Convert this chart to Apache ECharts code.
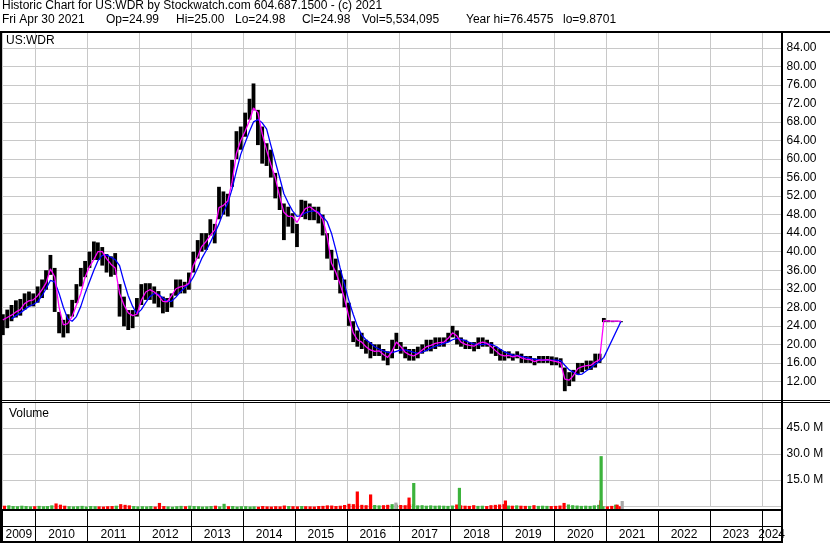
<!DOCTYPE html>
<html><head><meta charset="utf-8">
<script src="https://cdn.jsdelivr.net/npm/echarts@6/dist/echarts.min.js"></script>
<style>html,body{margin:0;padding:0;background:#fff}#c{width:830px;height:543px}</style>
</head><body><div id="c"></div><script>
// ---------- DATA ----------
const firstMonth = [2009, 5];           // May 2009 ... Apr 2021 (monthly)
const highs = [
  26.5,27.5,28.5,29.5,29.8,31,31.4,31,
  32.5,34,36,39.3,36.5,27,25.3,26.5,29.6,33,36.5,38,
  40,42.2,42,41,39.5,39,39.7,33,30.3,27.4,27.4,30,
  33,33.2,33.2,32.5,31.5,30.3,30,31,34,34,33.5,35.5,
  40,42.5,44,44,47,46,54,53,52.5,59.8,66,67,
  70,73,76.3,70.6,67,63.4,62,57,54,50.4,49.7,48.3,
  46,51.2,51,50.4,49.7,49.7,48,44,40.4,38.5,36,34,
  29,25,23,22.5,21,20.5,20,20,19,18.5,21,22.5,
  20.5,19.5,19,19,19.5,20,21,21,21.5,21.5,21.5,22.5,
  24,23,21.5,21,20.5,20.5,21.5,21.5,21,20.5,19.5,19,
  18.5,18.5,18,18.5,18,17.5,17.5,17,17.5,17.5,17.5,17.4,
  17.2,17,15,14,14.5,16,16,16.5,16.5,18,18,25.7,
  25.2,25.1,25.1,25
];
const lows = [
  22,23.5,25,25.8,26.2,27.5,28.2,28.2,
  29,30,31.8,35,27,22.4,21.5,22.4,26,28.9,32.5,34.5,
  36.5,38.2,38.2,37,35.5,34.6,35,26,23.9,23.1,23.5,26,
  28.5,29.6,29.6,28.8,28,26.7,27,28,30.5,31,31,31.8,
  35.5,38.5,40,40.4,43.5,41.8,47,48,47.6,54,60,62,
  64.8,68.5,70.5,63,59,58.5,56,51.5,49,42.5,45.4,44,
  41,47.5,47,46.8,46.8,46.1,43.5,38.5,36,33.9,31,28,
  24,20.5,19.5,19,18,17,17.5,17.5,16.5,15.5,17,19,
  18,17,16.5,16.5,17,18,18.5,18.5,19,19.5,19.5,20.5,
  21.5,20,19.5,19,19,18.5,19,19.5,19.5,18,17.5,16.5,
  16.5,17,16.5,17,16,16,16,15.5,16,16,16,15.5,
  15.5,15,9.9,11,12,13.5,14,14.5,14.5,15,16,24.8,
  24.8,24.8,24.9,24.9
];
const maFast = [
  25.3,25.8,26.3,27,27.5,28.8,29.4,29.6,
  30.5,31.8,33.2,36.3,34.6,28,24.2,24.5,26,28.5,31,34.5,
  36.8,38.3,40,40,38.5,37.3,36.5,31,28.5,26.8,26.2,26.5,
  29.5,31.3,31.8,31.3,30.5,29.3,29.2,30.5,32,32.4,32.6,33.2,
  37,38.9,41.1,42.2,43.5,44.7,49.5,50,51,55,61.2,64,
  66,68.3,71,70,65.5,61.9,58.8,56,52,48.5,47.6,47.6,
  46.3,48,49.3,49.7,49,48.3,47,43.5,37.5,35.6,33,30,
  26,22.5,21,20.5,19.5,18.8,18.5,18.6,17.8,17.2,18.5,20.5,
  19.5,18.3,17.8,17.5,18,18.8,19.5,19.8,20.2,20.4,20.5,21.3,
  22.5,21.8,20.5,20,19.8,19.6,20.2,20.5,20.2,19.5,18.6,17.8,
  17.5,17.6,17.3,17.6,17.1,16.8,16.7,16.3,16.6,16.6,16.7,16.5,
  16.3,16,12.5,12.3,13.3,14.8,15.2,15.4,15.5,16.2,16.7,25.2,
  25,25,25,25
];
const maSlow = [
  null,null,25.5,26.2,26.8,27.5,28.2,28.6,
  29.2,30.5,32,33.8,33.5,31,28,25.5,25,26,28.2,31,
  33.5,36,38,39.2,39.3,38.8,38.3,37,33.5,30.5,28.2,26.6,
  27.5,29,30.3,31,30.8,30,29.3,29.3,30.2,31.3,32.2,33,
  34.5,36.5,38.5,40.2,42,44,46,48.5,50.5,53.5,57.5,61,
  63.5,66,68,68.5,67.8,66.5,63,59.5,56,52.5,50.5,48.8,
  47.6,47.8,48.4,48.7,48.8,48.6,47.6,46.5,44,40.5,36.5,33,
  29.5,26.5,24,22,21,20.3,19.5,19,18.6,18.3,18.2,18.5,
  18.8,18.8,18.6,18.3,18.1,18.3,18.7,19.2,19.6,19.9,20.2,20.5,
  21,21.3,21.1,20.8,20.4,20.1,19.9,20,20.1,20,19.6,19,
  18.4,18,17.7,17.6,17.4,17.2,17,16.8,16.7,16.6,16.6,16.6,
  16.6,16.5,15.5,14.5,14,13.5,13.6,14.3,14.9,15.7,16.3,17.2,
  null,null,null,25
];
// typical daily volume per month, millions
const volume = [
  1.9,2.1,1.7,1.6,1.9,1.7,1.5,1.6,
  1.8,1.6,1.7,2.1,3.2,2.5,1.9,1.6,1.5,1.6,1.8,1.4,
  1.7,1.6,1.5,1.4,1.6,1.7,1.9,2.8,2.4,2.1,1.7,1.5,
  1.6,1.5,1.7,1.4,3.5,1.7,1.5,1.3,1.6,1.8,1.6,1.9,
  1.7,1.6,1.4,1.5,1.7,1.9,1.5,3.0,1.6,1.7,1.4,1.6,
  1.6,1.4,1.5,1.3,1.7,1.5,1.4,1.6,1.5,2.0,1.7,1.6,
  1.5,1.7,1.6,1.5,1.4,1.7,1.8,2.1,2.0,1.7,1.9,2.3,
  3.0,2.8,2.6,2.4,2.2,2.6,2.3,2.1,2.2,2.4,2.8,2.5,
  2.3,2.2,2.6,2.8,2.1,2.2,1.9,2.1,1.9,2.0,1.9,1.8,
  2.0,2.6,2.1,1.9,1.8,2.2,1.8,1.9,1.7,2.2,2.4,2.6,
  2.8,2.0,1.9,2.1,1.9,1.8,1.8,2.2,1.8,1.9,1.8,1.7,
  1.8,2.0,3.5,2.6,2.2,2.0,1.8,1.9,1.8,2.1,2.4,1.6,
  1.5,1.8,2.5,1.6
];
const spikeDates  = ['2016-03-14','2016-06-16','2016-12-12','2017-03-15','2017-04-17','2018-03-06','2019-01-25','2020-11-30','2020-12-02','2021-03-25','2021-04-30'];
const spikeValues = [10.1, 8.4, 3.7, 6.6, 15.0, 12.2, 4.9, 5.0, 30.5, 2.5, 4.6];
const spikeDir    = ['down','down','flat','down','up','up','down','down','up','down','flat'];
const yearLabels = ['2009','2010','2011','2012','2013','2014','2015','2016','2017','2018','2019','2020','2021','2022','2023','2024'];
const priceTicks = [12,16,20,24,28,32,36,40,44,48,52,56,60,64,68,72,76,80,84];
const volTicks = [15,30,45];
const axisStart = '2009-05-09', axisEnd = '2024-05-19';
const header1 = 'Historic Chart for US:WDR by Stockwatch.com 604.687.1500 - (c) 2021';
const header2 = ['Fri Apr 30 2021','Op=24.99','Hi=25.00','Lo=24.98','Cl=24.98','Vol=5,534,095','Year hi=76.4575','lo=9.8701'];
const header2X = [2,106,176,235,302,362,466,563];

// ---------- BUILD ----------
const FONT = '"Liberation Sans", Arial, sans-serif';
const tMin = Date.parse(axisStart + 'T00:00:00Z'), tMax = Date.parse(axisEnd + 'T00:00:00Z');
const months = highs.map((_, i) => Date.UTC(firstMonth[0], firstMonth[1] - 1 + i, 15));
const mids = highs.map((h, i) => (h + lows[i]) / 2);
const UP = '#3cb33c', DOWN = '#ff0000', FLAT = '#a8a8a8';
const volData = months.map((t, i) => ({value: [t, volume[i] * 1e6], itemStyle: {color: i > 0 && mids[i] >= mids[i-1] ? UP : DOWN}}));
spikeDates.forEach((d, i) => volData.push({value: [Date.parse(d + 'T00:00:00Z'), spikeValues[i] * 1e6],
  itemStyle: {color: spikeDir[i] === 'up' ? UP : spikeDir[i] === 'down' ? DOWN : FLAT}}));

const YEAR = 365 * 86400000;
const GRIDC = '#c8c8c8';
function xAx(gi, lineColor) {
  return {type: 'time', gridIndex: gi, min: tMin, max: tMax, minInterval: YEAR, maxInterval: YEAR + 86400000 * 2,
    axisLine: {show: false}, axisTick: {show: false}, axisLabel: {show: false},
    splitLine: {show: true, lineStyle: {color: lineColor, width: 1}}};
}
const L = 2, R = 48.5;
const grids = [
  {left: L, right: R, top: 32, height: 368},
  {left: L, right: R, top: 402, height: 104},
  {left: L, right: R, top: 402, height: 107},
  {left: L, right: R, top: 510, height: 17},
  {left: L, right: R, top: 527, height: 14}
];
const lineEl = (x1, y1, x2, y2, w) => ({type: 'line', silent: true, z: 100, shape: {x1, y1, x2, y2}, style: {stroke: '#000', lineWidth: w}});
const txt = (x, y, s) => ({type: 'text', x, y, z: 100, style: {text: s, font: '12px ' + FONT, fill: '#000', verticalAlign: 'middle'}});

const option = {
  animation: false,
  useUTC: true,
  backgroundColor: '#fff',
  grid: grids,
  xAxis: [xAx(0, GRIDC), xAx(1, GRIDC), xAx(2, 'transparent'), xAx(3, '#000'), xAx(4, '#000')],
  yAxis: [
    {type: 'value', gridIndex: 0, position: 'right', min: 8, max: 87.4, interval: 4,
      axisLine: {show: false}, axisTick: {show: false},
      axisLabel: {margin: 5, color: '#000', fontSize: 12, fontFamily: FONT,
        formatter: v => priceTicks.includes(Math.round(v * 100) / 100) ? v.toFixed(2) : ''},
      splitLine: {lineStyle: {color: GRIDC}}},
    {type: 'value', gridIndex: 1, position: 'right', min: 0, max: 60e6, interval: 15e6,
      axisLine: {show: false}, axisTick: {show: false},
      axisLabel: {margin: 5, color: '#000', fontSize: 12, fontFamily: FONT,
        formatter: v => volTicks.includes(Math.round(v / 1e6)) && v > 0 && v < 60e6 ? (v / 1e6).toFixed(1) + ' M' : ''},
      splitLine: {lineStyle: {color: GRIDC}}},
    {type: 'value', gridIndex: 2, min: 0, max: 107 / 26 * 15e6, show: false},
    {type: 'value', gridIndex: 3, min: 0, max: 1, show: false},
    {type: 'value', gridIndex: 4, min: 0, max: 1, show: false}
  ],
  series: [
    {type: 'custom', xAxisIndex: 0, yAxisIndex: 0, clip: true,
      data: months.map((t, i) => [t, lows[i], highs[i]]),
      encode: {x: 0, y: [1, 2]},
      renderItem: (params, api) => {
        const lo = api.coord([api.value(0), api.value(1)]);
        const hi = api.coord([api.value(0), api.value(2)]);
        return {type: 'rect', shape: {x: lo[0] - 1.9, y: hi[1], width: 3.8, height: Math.max(1, lo[1] - hi[1])}, style: {fill: '#000'}};
      }},
    {type: 'line', xAxisIndex: 0, yAxisIndex: 0, data: months.map((t, i) => [t, maSlow[i]]), connectNulls: true,
      showSymbol: false, symbol: 'none', lineStyle: {color: '#0000ff', width: 1.3}, z: 5},
    {type: 'line', xAxisIndex: 0, yAxisIndex: 0, data: months.map((t, i) => [t, maFast[i]]),
      showSymbol: false, symbol: 'none', lineStyle: {color: '#ff00ff', width: 1.3}, z: 6},
    {type: 'bar', xAxisIndex: 2, yAxisIndex: 2, data: volData, barWidth: 3.2, barGap: '-100%'},
    {type: 'custom', xAxisIndex: 4, yAxisIndex: 4, clip: false,
      data: yearLabels.map(y => {
        const yr = +y;
        const a = Math.max(Date.UTC(yr, 0, 1), tMin), b = Math.min(Date.UTC(yr + 1, 0, 1), tMax);
        return [(a + b) / 2, 0];
      }),
      renderItem: (params, api) => {
        const p = api.coord([api.value(0), 0]);
        const cs = params.coordSys;
        return {type: 'text', x: p[0], y: cs.y + cs.height / 2 + 1,
          style: {text: yearLabels[params.dataIndex], font: '12px ' + FONT, fill: '#000', align: 'center', verticalAlign: 'middle'}};
      }}
  ],
  graphic: [
    txt(2, 6, header1),
    ...header2.map((s, i) => txt(header2X[i], 20, s)),
    txt(6, 41, 'US:WDR'),
    txt(9, 413.5, 'Volume'),
    lineEl(0, 32, 830, 32, 2),
    lineEl(0, 400.5, 830, 400.5, 1),
    lineEl(0, 402.5, 830, 402.5, 1),
    lineEl(0, 510, 783, 510, 2),
    lineEl(0, 526.5, 783, 526.5, 1),
    lineEl(0, 542, 783, 542, 2),
    lineEl(1, 32, 1, 543, 2),
    lineEl(782, 32, 782, 543, 2)
  ]
};
const chart = echarts.init(document.getElementById('c'));
chart.setOption(option);
</script></body></html>
